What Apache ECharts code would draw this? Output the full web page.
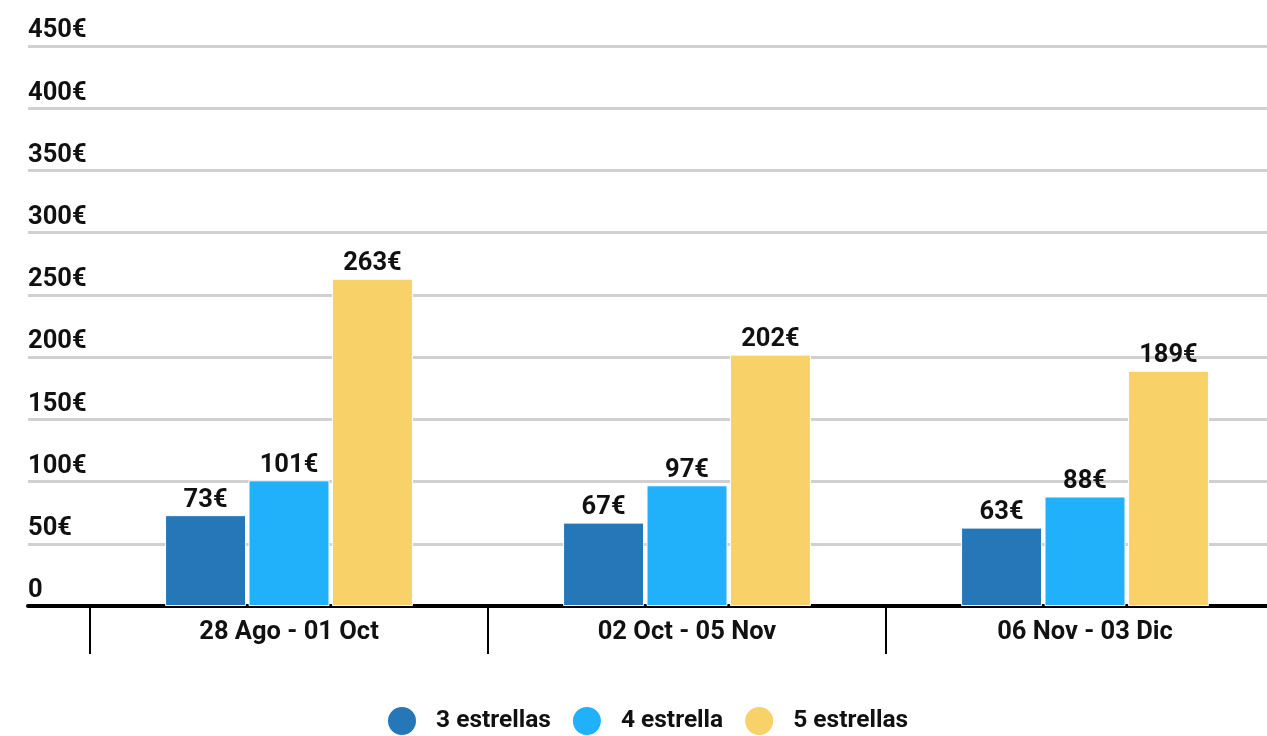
<!DOCTYPE html>
<html>
<head>
<meta charset="utf-8">
<script src="https://cdn.jsdelivr.net/npm/echarts@6/dist/echarts.min.js"></script>
<style>
  html, body { margin: 0; padding: 0; background: #fff; }
  #chart { width: 1267px; height: 736px; }
</style>
</head>
<body>
<div id="chart"></div>
<script>
// datos
const categories = ['28 Ago - 01 Oct', '02 Oct - 05 Nov', '06 Nov - 03 Dic']
const seriesNames = ['3 estrellas', '4 estrella', '5 estrellas']
const tres = [73, 67, 63]
const cuatro = [101, 97, 88]
const cinco = [263, 202, 189]
const yTicks = ['0', '50€', '100€', '150€', '200€', '250€', '300€', '350€', '400€', '450€']
const colors = ['#2577b8', '#21b0fa', '#f8d168']

const font = 'Roboto, "Noto Sans", sans-serif'
const chart = echarts.init(document.getElementById('chart'))

const makeBar = (name, data, color) => ({
  type: 'bar',
  name: name,
  data: data,
  xAxisIndex: 1,
  yAxisIndex: 1,
  barWidth: 81,
  barGap: '3%',
  itemStyle: { color: color, borderColor: '#fff', borderWidth: 1 },
  label: {
    show: true,
    position: 'top',
    distance: 2,
    formatter: '{c}€',
    fontFamily: font,
    fontSize: 25.5,
    fontWeight: 'bold',
    color: '#111'
  }
})

chart.setOption({
  animation: false,
  grid: [
    { left: 28, right: 0, top: 46, bottom: 130, outerBoundsMode: 'none' },
    { left: 90, width: 1194, top: 46, bottom: 130, outerBoundsMode: 'none' }
  ],
  xAxis: [
    {
      gridIndex: 0,
      type: 'category',
      data: [''],
      axisLine: { lineStyle: { color: '#000', width: 4 } },
      axisTick: { show: false },
      axisLabel: { show: false }
    },
    {
      gridIndex: 1,
      type: 'category',
      data: categories,
      axisLine: { show: false },
      axisTick: { show: true, length: 48, lineStyle: { color: '#000', width: 2 } },
      axisLabel: {
        margin: 14,
        fontFamily: font,
        fontSize: 25.5,
        fontWeight: 'bold',
        color: '#111'
      }
    }
  ],
  yAxis: [
    {
      gridIndex: 0,
      type: 'value',
      min: 0,
      max: 450,
      interval: 50,
      axisLine: { show: false },
      axisTick: { show: false },
      splitLine: { lineStyle: { color: '#d0d0d0', width: 3 } },
      axisLabel: {
        inside: true,
        margin: 0,
        verticalAlign: 'bottom',
        padding: [0, 0, 2, 0],
        fontFamily: font,
        fontSize: 25.5,
        fontWeight: 'bold',
        color: '#111',
        formatter: (v) => yTicks[Math.round(v / 50)]
      }
    },
    {
      gridIndex: 1,
      type: 'value',
      min: 0,
      max: 450,
      interval: 50,
      show: false,
      splitLine: { show: false }
    }
  ],
  legend: {
    left: 386,
    top: 705,
    padding: 0,
    icon: 'circle',
    itemWidth: 30,
    itemHeight: 30,
    itemGap: 20,
    data: seriesNames,
    textStyle: {
      fontFamily: font,
      fontSize: 24.5,
      fontWeight: 'bold',
      color: '#111',
      padding: [0, 0, 0, 14]
    }
  },
  series: [
    makeBar(seriesNames[0], tres, colors[0]),
    makeBar(seriesNames[1], cuatro, colors[1]),
    makeBar(seriesNames[2], cinco, colors[2])
  ]
})
</script>
</body>
</html>
